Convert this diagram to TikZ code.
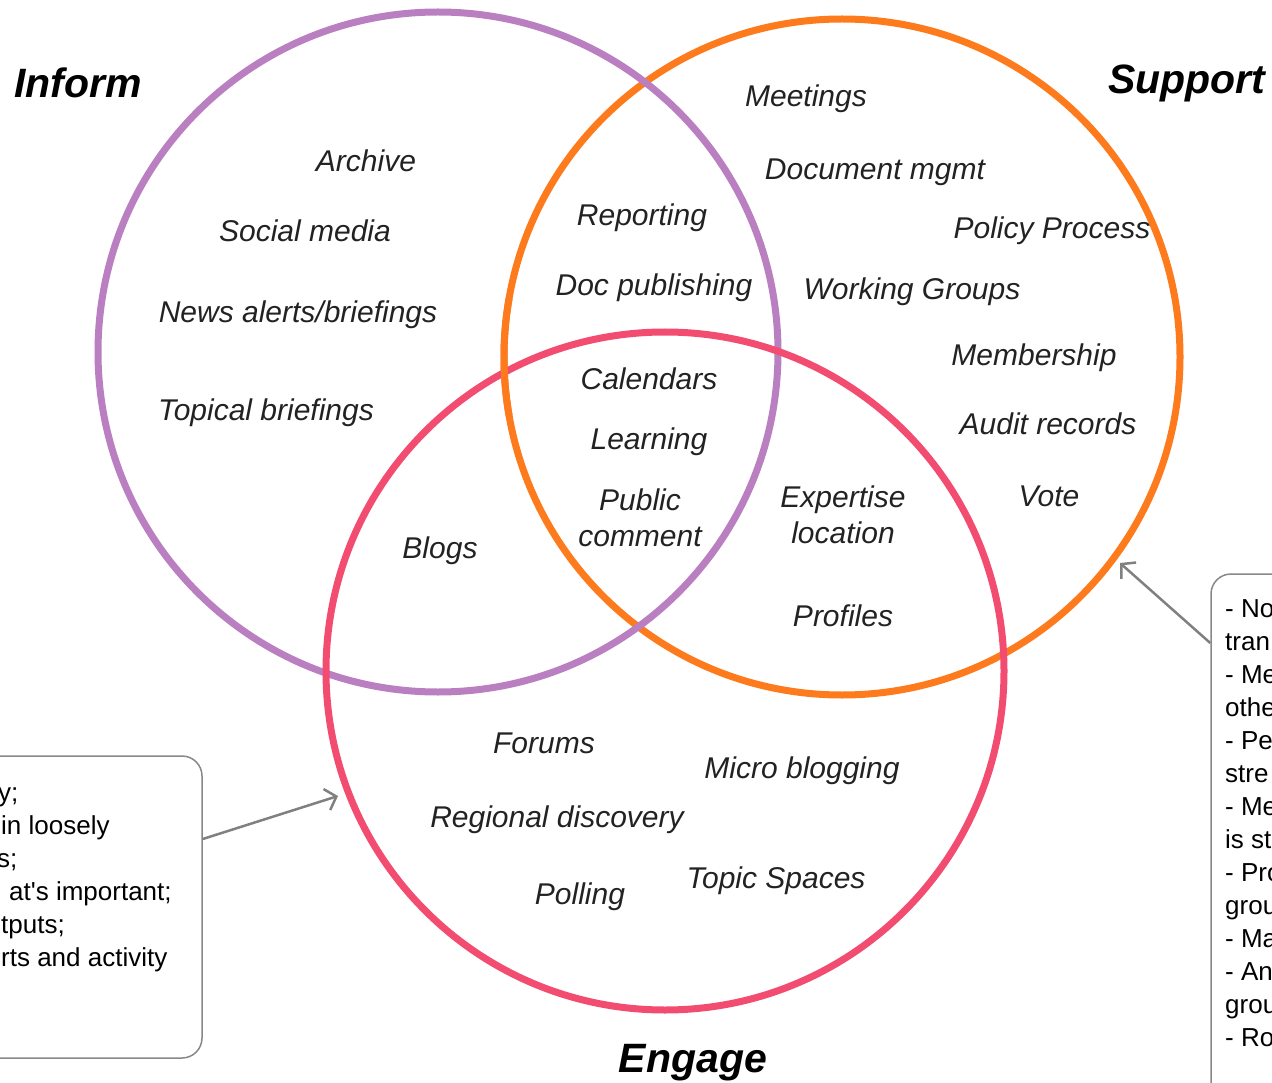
\documentclass[tikz,border=0pt]{standalone}
\usepackage{fontspec}
\setmainfont{Liberation Sans}
\newfontfamily\callfont{Liberation Sans}
\usetikzlibrary{arrows.meta}
\definecolor{infcol}{HTML}{B97FC0}
\definecolor{supcol}{HTML}{FD7B1C}
\definecolor{engcol}{HTML}{F24D71}
\definecolor{lbltext}{HTML}{222222}
\definecolor{boxline}{HTML}{888888}
\definecolor{arrcol}{HTML}{808080}
\begin{document}
\begin{tikzpicture}[x=1pt,y=-1pt,
  ring/.style={circle, line width=7pt, minimum size=#1, inner sep=0pt, outer sep=0pt},
  lbl/.style={font=\fontsize{30}{36}\selectfont\itshape, text=lbltext, align=center, inner sep=0pt, yshift=-3pt},
  ttl/.style={font=\fontsize{41}{48}\selectfont\bfseries\itshape, text=black, inner sep=0pt, yshift=-3pt},
  callout/.style={draw=boxline, line width=1.5pt, rounded corners=20pt, fill=white, inner sep=0pt},
  frag/.style={font=\callfont\fontsize{26}{33}\selectfont, text=black, anchor=base west, inner sep=0pt},
  conn/.style={draw=arrcol, line width=2.5pt, -{Straight Barb[length=10pt,width=22pt,line width=2.5pt]}}
]
\useasboundingbox (0,0) rectangle (1272,1083);
\clip (0,0) rectangle (1272,1083);

% circles
\node[ring=676pt, draw=supcol] (S) at (842,357) {};
\node[ring=680pt, draw=infcol] (I) at (438,352) {};
\node[ring=678pt, draw=engcol] (E) at (665,671) {};
\draw[supcol, line width=7pt] ([shift={(170:338)}]S.center) arc[start angle=170, end angle=190, radius=338];

% titles
\node[ttl] (tInf) at (78,80) {Inform};
\node[ttl] (tSup) at (1187,80) {Support};
\node[ttl] (tEng) at (693,1060) {Engage};

% Inform only
\node[lbl] (archive) at (366,158) {Archive};
\node[lbl] (social) at (305,228) {Social media};
\node[lbl] (news) at (298,312) {News alerts/briefings};
\node[lbl] (topical) at (266,410) {Topical briefings};

% Support only
\node[lbl] (meetings) at (806,96) {Meetings};
\node[lbl] (docmgmt) at (875,169) {Document mgmt};
\node[lbl] (policy) at (1052,228) {Policy Process};
\node[lbl] (working) at (912,289) {Working Groups};
\node[lbl] (member) at (1034,355) {Membership};
\node[lbl] (audit) at (1048,421) {Audit records};
\node[lbl] (vote) at (1049,493) {Vote};

% Inform + Support
\node[lbl] (reporting) at (642,215) {Reporting};
\node[lbl] (docpub) at (654,285) {Doc publishing};

% all three
\node[lbl] (calendars) at (649,376) {Calendars};
\node[lbl] (learning) at (649,439) {Learning};
\node[lbl] (public) at (640,515) {Public\\comment};

% Support + Engage
\node[lbl] (expertise) at (843,512) {Expertise\\location};
\node[lbl] (profiles) at (843,613) {Profiles};

% Inform + Engage
\node[lbl] (blogs) at (440,548) {Blogs};

% Engage only
\node[lbl] (forums) at (544,740) {Forums};
\node[lbl] (micro) at (802,768) {Micro blogging};
\node[lbl] (regional) at (557,817) {Regional discovery};
\node[lbl] (topicsp) at (776,878) {Topic Spaces};
\node[lbl] (polling) at (580,894) {Polling};

% left callout
\node[callout, minimum width=502pt, minimum height=302pt] (L) at (-49,907) {};
\node[frag] (lf1) at (-2,801) {y;};
\node[frag] (lf2) at (1,834) {in loosely};
\node[frag] (lf3) at (-3,867) {s;};
\node[frag] (lf4) at (9,900) {at's important;};
\node[frag] (lf5) at (1,933) {tputs;};
\node[frag] (lf6) at (1,966) {rts and activity};

% right callout
\node[callout, minimum width=500pt, minimum height=566pt] (R) at (1461,857) {};
\node[frag] (rf1) at (1225,617) {- No};
\node[frag] (rf2) at (1225,650) {tran};
\node[frag] (rf3) at (1225,683) {- Me};
\node[frag] (rf4) at (1225,716) {othe};
\node[frag] (rf5) at (1225,749) {- Pe};
\node[frag] (rf6) at (1225,782) {stre};
\node[frag] (rf7) at (1225,815) {- Me};
\node[frag] (rf8) at (1225,848) {is st};
\node[frag] (rf9) at (1225,881) {- Pro};
\node[frag] (rf10) at (1225,914) {grou};
\node[frag] (rf11) at (1225,947) {- Ma};
\node[frag] (rf12) at (1225,980) {- An};
\node[frag] (rf13) at (1225,1013) {grou};
\node[frag] (rf14) at (1225,1046) {- Ro};

% connectors
\coordinate (eTip) at (338,796);
\coordinate (sTip) at (1120,563);
\draw[conn] ([yshift=68pt]L.east) -- (eTip);
\draw[conn] ([yshift=214pt]R.west) -- (sTip);
\end{tikzpicture}
\end{document}
